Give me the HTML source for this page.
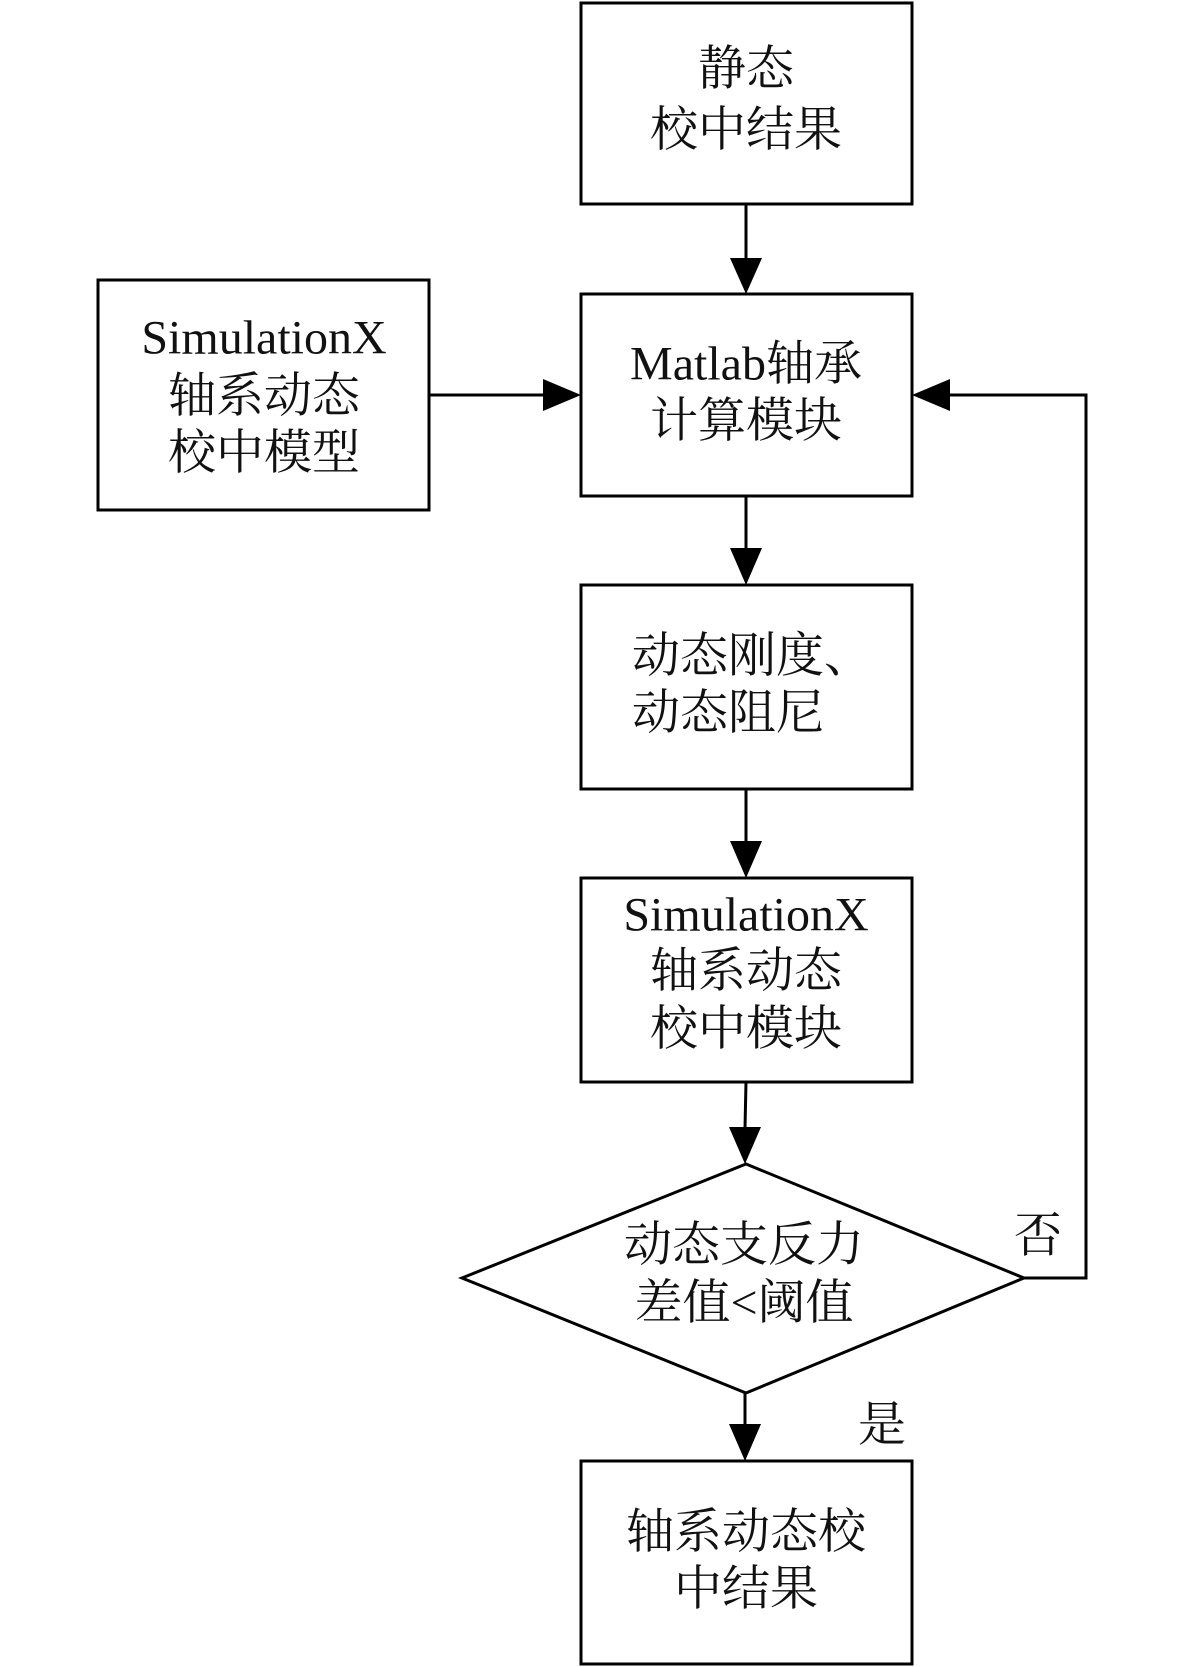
<!DOCTYPE html>
<html><head><meta charset="utf-8"><style>
html,body{margin:0;padding:0;background:#fff;}
svg{display:block;}
text{font-family:"Liberation Serif","Noto Serif CJK SC",serif;font-size:48px;fill:#111;}
</style></head><body>
<svg width="1181" height="1667" viewBox="0 0 1181 1667" xmlns="http://www.w3.org/2000/svg">
<g fill="none" stroke="#000" stroke-width="3">
<rect x="581" y="3" width="331" height="201"/>
<rect x="98" y="280" width="331" height="230"/>
<rect x="581" y="294" width="331" height="202"/>
<rect x="581" y="585" width="331" height="204"/>
<rect x="581" y="878" width="331" height="204"/>
<polygon points="746,1164 1024,1278 746,1393 462,1278"/>
<rect x="581" y="1461" width="331" height="203"/>
<line x1="746" y1="204" x2="746" y2="260"/>
<line x1="429" y1="395" x2="545" y2="395"/>
<line x1="746" y1="496" x2="746" y2="550"/>
<line x1="746" y1="789" x2="746" y2="843"/>
<line x1="746" y1="1082" x2="745" y2="1128"/>
<line x1="745" y1="1393" x2="745" y2="1425"/>
<polyline points="1024,1278 1086,1278 1086,395 948,395"/>
</g>
<g fill="#000">
<polygon points="730,258 762,258 746,294"/>
<polygon points="543,379 543,411 581,395"/>
<polygon points="730,548 762,548 746,585"/>
<polygon points="730,841 762,841 746,878"/>
<polygon points="729,1127 761,1127 745,1164"/>
<polygon points="729,1424 761,1424 745,1461"/>
<polygon points="950,379 950,411 912,395"/>
</g>
<g text-anchor="middle" dominant-baseline="central">
<text x="746" y="69">静态</text>
<text x="746" y="130">校中结果</text>
<text x="264" y="338">SimulationX</text>
<text x="264" y="396">轴系动态</text>
<text x="264" y="453">校中模型</text>
<text x="746" y="364">Matlab轴承</text>
<text x="746" y="421">计算模块</text>
<text x="746" y="915">SimulationX</text>
<text x="746" y="971">轴系动态</text>
<text x="746" y="1029">校中模块</text>
<text x="744" y="1245">动态支反力</text>
<text x="744" y="1303">差值&lt;阈值</text>
<text x="746" y="1532">轴系动态校</text>
<text x="746" y="1589">中结果</text>
<text x="1038" y="1236">否</text>
<text x="882" y="1425">是</text>
</g>
<g dominant-baseline="central">
<text x="632" y="656">动态刚度、</text>
<text x="632" y="713">动态阻尼</text>
</g>
</svg>
</body></html>
